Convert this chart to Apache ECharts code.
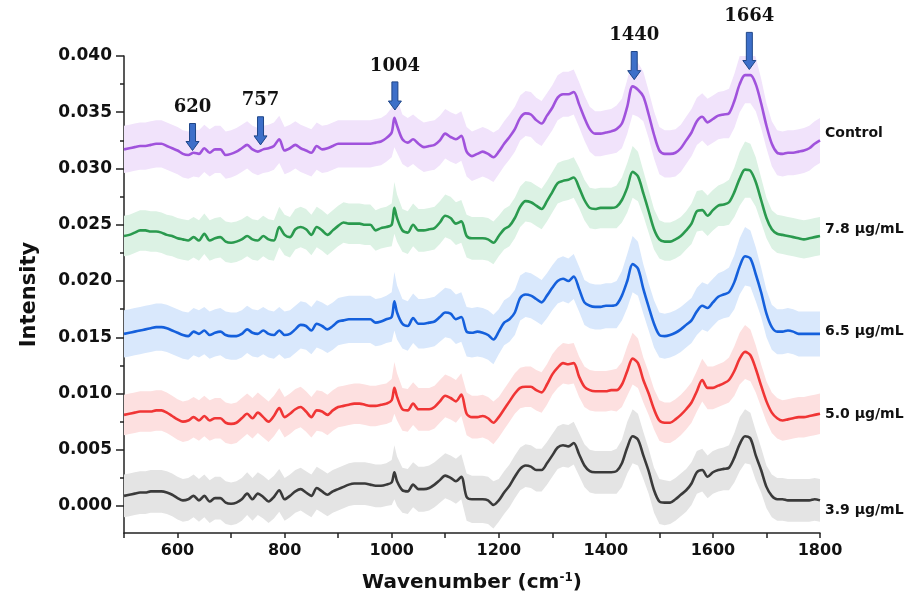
<!DOCTYPE html>
<html><head><meta charset="utf-8">
<script src="https://cdn.jsdelivr.net/npm/echarts@6/dist/echarts.min.js"></script>
<style>html,body{margin:0;padding:0;background:#fff}#c{width:916px;height:600px}</style>
</head><body><div id="c"></div><script>
// ---------- DATA ----------
const wavenumber = [
 500,510,520,530,540,550,560,570,580,590,
 600,610,620,630,640,650,660,670,680,690,
 700,710,720,730,740,750,760,770,780,790,
 800,810,820,830,840,850,860,870,880,890,
 900,910,920,930,940,950,960,970,980,990,
 1000,1005,1010,1020,1030,1040,1050,1060,1070,1080,1090,
 1100,1110,1120,1130,1140,1150,1160,1170,1180,1190,
 1200,1210,1220,1230,1240,1250,1260,1270,1280,1290,
 1300,1310,1320,1330,1340,1350,1360,1370,1380,1390,
 1400,1410,1420,1430,1440,1450,1460,1470,1480,1490,
 1500,1510,1520,1530,1540,1550,1560,1570,1580,1590,
 1600,1610,1620,1630,1640,1650,1660,1670,1680,1690,
 1700,1710,1720,1730,1740,1750,1760,1770,1780,1790,
 1800];

const seriesNames = ['Control', '7.8 μg/mL', '6.5 μg/mL', '5.0 μg/mL', '3.9 μg/mL'];

const meanControl = [
 0.0317,0.0318,0.0319,0.0320,0.0320,0.0321,0.0322,0.0322,0.0320,0.0318,
 0.0316,0.0313,0.0312,0.0314,0.0313,0.0318,0.0314,0.0317,0.0317,0.0312,
 0.0313,0.0315,0.0318,0.0321,0.0317,0.0315,0.0317,0.0318,0.0320,0.0326,
 0.0316,0.0318,0.0321,0.0318,0.0316,0.0314,0.0320,0.0317,0.0318,0.0320,
 0.0322,0.0322,0.0322,0.0322,0.0322,0.0322,0.0322,0.0323,0.0324,0.0327,
 0.0332,0.0345,0.0338,0.0326,0.0323,0.0326,0.0322,0.0319,0.0320,0.0321,0.0325,
 0.0331,0.0328,0.0326,0.0329,0.0315,0.0311,0.0313,0.0315,0.0313,0.0310,
 0.0315,0.0322,0.0328,0.0335,0.0345,0.0349,0.0348,0.0343,0.0340,0.0347,
 0.0354,0.0363,0.0366,0.0366,0.0368,0.0357,0.0345,0.0335,0.0331,0.0331,
 0.0332,0.0333,0.0335,0.0340,0.0355,0.0373,0.0370,0.0364,0.0348,0.0330,
 0.0316,0.0313,0.0313,0.0314,0.0318,0.0325,0.0332,0.0342,0.0346,0.0341,
 0.0344,0.0347,0.0348,0.0349,0.0360,0.0375,0.0383,0.0383,0.0375,0.0358,
 0.0338,0.0322,0.0314,0.0313,0.0314,0.0314,0.0315,0.0316,0.0318,0.0322,
 0.0325];

const mean78 = [
 0.0240,0.0241,0.0243,0.0245,0.0245,0.0244,0.0244,0.0243,0.0241,0.0240,
 0.0238,0.0237,0.0236,0.0239,0.0236,0.0242,0.0236,0.0238,0.0239,0.0235,
 0.0234,0.0235,0.0237,0.0240,0.0237,0.0236,0.0240,0.0237,0.0236,0.0248,
 0.0241,0.0239,0.0246,0.0248,0.0246,0.0241,0.0248,0.0245,0.0241,0.0245,
 0.0249,0.0252,0.0251,0.0251,0.0251,0.0250,0.0250,0.0245,0.0247,0.0248,
 0.0250,0.0265,0.0256,0.0245,0.0243,0.0250,0.0245,0.0245,0.0246,0.0247,0.0252,
 0.0258,0.0256,0.0251,0.0253,0.0240,0.0238,0.0238,0.0238,0.0237,0.0234,
 0.0240,0.0246,0.0249,0.0256,0.0266,0.0271,0.0270,0.0267,0.0264,0.0271,
 0.0279,0.0287,0.0289,0.0290,0.0292,0.0283,0.0272,0.0265,0.0264,0.0265,
 0.0265,0.0265,0.0266,0.0272,0.0283,0.0297,0.0293,0.0278,0.0262,0.0246,
 0.0237,0.0235,0.0235,0.0237,0.0240,0.0245,0.0251,0.0262,0.0263,0.0258,
 0.0263,0.0267,0.0268,0.0270,0.0279,0.0291,0.0299,0.0298,0.0288,0.0272,
 0.0256,0.0246,0.0242,0.0241,0.0240,0.0239,0.0238,0.0237,0.0238,0.0239,
 0.0240];

const mean65 = [
 0.0153,0.0154,0.0155,0.0156,0.0157,0.0158,0.0159,0.0159,0.0158,0.0156,
 0.0154,0.0152,0.0151,0.0155,0.0153,0.0156,0.0152,0.0154,0.0155,0.0152,
 0.0151,0.0151,0.0153,0.0157,0.0154,0.0153,0.0156,0.0153,0.0152,0.0156,
 0.0152,0.0153,0.0157,0.0161,0.0160,0.0156,0.0162,0.0160,0.0157,0.0160,
 0.0164,0.0165,0.0166,0.0166,0.0166,0.0166,0.0166,0.0163,0.0164,0.0166,
 0.0168,0.0182,0.0172,0.0162,0.0160,0.0167,0.0162,0.0162,0.0163,0.0164,0.0168,
 0.0172,0.0171,0.0166,0.0168,0.0155,0.0154,0.0155,0.0154,0.0152,0.0148,
 0.0155,0.0163,0.0166,0.0172,0.0185,0.0188,0.0187,0.0184,0.0181,0.0187,
 0.0194,0.0200,0.0202,0.0200,0.0204,0.0193,0.0181,0.0178,0.0177,0.0177,
 0.0178,0.0178,0.0179,0.0187,0.0200,0.0215,0.0211,0.0193,0.0177,0.0162,
 0.0152,0.0151,0.0152,0.0154,0.0157,0.0161,0.0165,0.0173,0.0178,0.0176,
 0.0181,0.0186,0.0188,0.0190,0.0199,0.0213,0.0222,0.0220,0.0206,0.0190,
 0.0171,0.0159,0.0155,0.0155,0.0156,0.0155,0.0153,0.0153,0.0153,0.0153,
 0.0153];

const mean50 = [
 0.0081,0.0082,0.0083,0.0084,0.0084,0.0084,0.0085,0.0085,0.0083,0.0080,
 0.0077,0.0075,0.0076,0.0079,0.0076,0.0080,0.0076,0.0078,0.0078,0.0074,
 0.0073,0.0074,0.0078,0.0082,0.0078,0.0083,0.0079,0.0075,0.0080,0.0087,
 0.0079,0.0082,0.0086,0.0088,0.0084,0.0079,0.0085,0.0084,0.0081,0.0085,
 0.0088,0.0089,0.0090,0.0091,0.0091,0.0090,0.0089,0.0089,0.0090,0.0091,
 0.0094,0.0105,0.0097,0.0086,0.0085,0.0091,0.0086,0.0086,0.0086,0.0088,0.0093,
 0.0098,0.0096,0.0093,0.0099,0.0082,0.0079,0.0079,0.0080,0.0078,0.0074,
 0.0079,0.0086,0.0093,0.0100,0.0105,0.0106,0.0106,0.0103,0.0101,0.0108,
 0.0117,0.0123,0.0127,0.0126,0.0127,0.0115,0.0106,0.0103,0.0102,0.0102,
 0.0102,0.0103,0.0103,0.0108,0.0120,0.0131,0.0127,0.0112,0.0100,0.0086,
 0.0076,0.0074,0.0074,0.0077,0.0081,0.0086,0.0092,0.0102,0.0112,0.0105,
 0.0105,0.0107,0.0109,0.0112,0.0120,0.0131,0.0137,0.0134,0.0122,0.0107,
 0.0093,0.0083,0.0078,0.0076,0.0077,0.0078,0.0079,0.0079,0.0080,0.0081,
 0.0082];

const mean39 = [
 0.0009,0.0010,0.0011,0.0012,0.0012,0.0013,0.0013,0.0013,0.0012,0.0010,
 0.0007,0.0005,0.0006,0.0009,0.0005,0.0009,0.0004,0.0007,0.0007,0.0003,
 0.0002,0.0003,0.0006,0.0011,0.0006,0.0011,0.0008,0.0004,0.0008,0.0014,
 0.0006,0.0009,0.0013,0.0015,0.0012,0.0009,0.0016,0.0013,0.0010,0.0013,
 0.0015,0.0017,0.0019,0.0020,0.0020,0.0020,0.0019,0.0018,0.0018,0.0019,
 0.0021,0.0030,0.0022,0.0014,0.0013,0.0019,0.0015,0.0015,0.0016,0.0019,0.0023,
 0.0027,0.0025,0.0022,0.0026,0.0008,0.0006,0.0006,0.0006,0.0005,0.0001,
 0.0005,0.0012,0.0018,0.0026,0.0033,0.0036,0.0035,0.0032,0.0032,0.0038,
 0.0045,0.0052,0.0054,0.0053,0.0056,0.0046,0.0036,0.0031,0.0030,0.0030,
 0.0030,0.0030,0.0031,0.0038,0.0052,0.0062,0.0059,0.0045,0.0031,0.0014,
 0.0004,0.0003,0.0003,0.0006,0.0010,0.0014,0.0020,0.0030,0.0032,0.0026,
 0.0030,0.0032,0.0033,0.0034,0.0043,0.0055,0.0062,0.0060,0.0045,0.0032,
 0.0017,0.0009,0.0006,0.0006,0.0005,0.0005,0.0005,0.0005,0.0005,0.0006,
 0.0005];

// standard deviation (half-width of the shaded band)
const sdControl = [
 0.0021,0.0021,0.0021,0.0021,0.0021,0.0021,0.0021,0.0021,0.0021,0.0021,
 0.0021,0.0021,0.0021,0.0021,0.0021,0.0021,0.0021,0.0021,0.0021,0.0021,
 0.0021,0.0021,0.0021,0.0021,0.0021,0.0021,0.0021,0.0021,0.0021,0.0021,
 0.0021,0.0021,0.0021,0.0021,0.0021,0.0021,0.0021,0.0021,0.0021,0.0021,
 0.0021,0.0021,0.0021,0.0021,0.0021,0.0021,0.0021,0.0021,0.0021,0.0021,
 0.0022,0.0026,0.0024,0.0022,0.0022,0.0022,0.0022,0.0022,0.0022,0.0022,0.0022,
 0.0022,0.0022,0.0022,0.0022,0.0022,0.0022,0.0022,0.0022,0.0022,0.0022,
 0.0020,0.0020,0.0020,0.0020,0.0020,0.0020,0.0020,0.0020,0.0020,0.0020,
 0.0020,0.0020,0.0020,0.0020,0.0020,0.0020,0.0020,0.0020,0.0020,0.0020,
 0.0020,0.0020,0.0021,0.0022,0.0024,0.0025,0.0024,0.0022,0.0021,0.0021,
 0.0021,0.0021,0.0021,0.0021,0.0021,0.0021,0.0021,0.0021,0.0021,0.0021,
 0.0021,0.0021,0.0021,0.0022,0.0024,0.0025,0.0025,0.0025,0.0024,0.0022,
 0.0020,0.0020,0.0020,0.0020,0.0020,0.0020,0.0020,0.0020,0.0020,0.0020,
 0.0020];
const sd78 = [
 0.0018,0.0018,0.0018,0.0018,0.0018,0.0018,0.0018,0.0018,0.0018,0.0018,
 0.0018,0.0018,0.0018,0.0018,0.0018,0.0018,0.0018,0.0018,0.0018,0.0018,
 0.0018,0.0018,0.0018,0.0018,0.0018,0.0018,0.0018,0.0018,0.0018,0.0018,
 0.0018,0.0018,0.0018,0.0018,0.0018,0.0018,0.0018,0.0018,0.0018,0.0018,
 0.0018,0.0018,0.0018,0.0018,0.0018,0.0018,0.0018,0.0018,0.0018,0.0018,
 0.0019,0.0023,0.0021,0.0019,0.0019,0.0019,0.0019,0.0019,0.0019,0.0019,0.0019,
 0.0019,0.0019,0.0019,0.0019,0.0019,0.0019,0.0019,0.0019,0.0019,0.0019,
 0.0018,0.0018,0.0018,0.0018,0.0018,0.0018,0.0018,0.0018,0.0018,0.0018,
 0.0018,0.0018,0.0018,0.0018,0.0018,0.0018,0.0018,0.0018,0.0018,0.0018,
 0.0018,0.0018,0.0019,0.0020,0.0022,0.0023,0.0022,0.0020,0.0019,0.0018,
 0.0017,0.0017,0.0017,0.0017,0.0017,0.0017,0.0018,0.0018,0.0018,0.0018,
 0.0018,0.0018,0.0019,0.0020,0.0022,0.0024,0.0025,0.0024,0.0022,0.0020,
 0.0018,0.0017,0.0017,0.0017,0.0017,0.0017,0.0017,0.0017,0.0017,0.0017,
 0.0017];
const sd65 = [
 0.0021,0.0021,0.0021,0.0021,0.0021,0.0021,0.0021,0.0021,0.0021,0.0021,
 0.0021,0.0021,0.0021,0.0021,0.0021,0.0021,0.0021,0.0021,0.0021,0.0021,
 0.0021,0.0021,0.0021,0.0021,0.0021,0.0021,0.0021,0.0021,0.0021,0.0021,
 0.0021,0.0021,0.0021,0.0021,0.0021,0.0021,0.0021,0.0021,0.0021,0.0021,
 0.0021,0.0021,0.0021,0.0021,0.0021,0.0021,0.0021,0.0021,0.0021,0.0021,
 0.0022,0.0026,0.0024,0.0022,0.0022,0.0022,0.0022,0.0022,0.0022,0.0022,0.0022,
 0.0022,0.0022,0.0022,0.0022,0.0022,0.0022,0.0022,0.0022,0.0022,0.0022,
 0.0020,0.0020,0.0020,0.0020,0.0020,0.0020,0.0020,0.0020,0.0020,0.0020,
 0.0020,0.0020,0.0020,0.0020,0.0020,0.0020,0.0020,0.0020,0.0020,0.0020,
 0.0020,0.0020,0.0021,0.0022,0.0024,0.0025,0.0024,0.0022,0.0021,0.0021,
 0.0020,0.0020,0.0020,0.0020,0.0020,0.0020,0.0020,0.0021,0.0021,0.0021,
 0.0021,0.0021,0.0021,0.0022,0.0024,0.0025,0.0026,0.0025,0.0024,0.0022,
 0.0021,0.0020,0.0020,0.0020,0.0020,0.0020,0.0020,0.0020,0.0020,0.0020,
 0.0020];
const sd50 = [
 0.0018,0.0018,0.0018,0.0018,0.0018,0.0018,0.0018,0.0018,0.0018,0.0018,
 0.0018,0.0018,0.0018,0.0018,0.0018,0.0018,0.0018,0.0018,0.0018,0.0018,
 0.0018,0.0018,0.0018,0.0018,0.0018,0.0018,0.0018,0.0018,0.0018,0.0018,
 0.0018,0.0018,0.0018,0.0018,0.0018,0.0018,0.0018,0.0018,0.0018,0.0018,
 0.0018,0.0018,0.0018,0.0018,0.0018,0.0018,0.0018,0.0018,0.0018,0.0018,
 0.0019,0.0023,0.0021,0.0019,0.0019,0.0019,0.0019,0.0019,0.0019,0.0019,0.0019,
 0.0019,0.0019,0.0019,0.0019,0.0019,0.0019,0.0019,0.0019,0.0019,0.0019,
 0.0018,0.0018,0.0018,0.0018,0.0018,0.0018,0.0018,0.0018,0.0018,0.0018,
 0.0018,0.0018,0.0018,0.0018,0.0018,0.0018,0.0018,0.0018,0.0018,0.0018,
 0.0018,0.0018,0.0019,0.0020,0.0022,0.0023,0.0022,0.0020,0.0019,0.0018,
 0.0018,0.0018,0.0018,0.0018,0.0018,0.0018,0.0018,0.0018,0.0019,0.0019,
 0.0019,0.0019,0.0019,0.0020,0.0022,0.0023,0.0024,0.0023,0.0021,0.0019,
 0.0018,0.0018,0.0018,0.0018,0.0018,0.0018,0.0018,0.0018,0.0018,0.0018,
 0.0018];
const sd39 = [
 0.0019,0.0019,0.0019,0.0019,0.0019,0.0019,0.0019,0.0019,0.0019,0.0019,
 0.0019,0.0019,0.0019,0.0019,0.0019,0.0019,0.0019,0.0019,0.0019,0.0019,
 0.0019,0.0019,0.0019,0.0019,0.0019,0.0019,0.0019,0.0019,0.0019,0.0019,
 0.0019,0.0019,0.0019,0.0019,0.0019,0.0019,0.0019,0.0019,0.0019,0.0019,
 0.0019,0.0019,0.0019,0.0019,0.0019,0.0019,0.0019,0.0019,0.0019,0.0019,
 0.0020,0.0024,0.0022,0.0020,0.0020,0.0020,0.0020,0.0020,0.0020,0.0020,0.0020,
 0.0020,0.0020,0.0020,0.0020,0.0021,0.0021,0.0021,0.0021,0.0021,0.0021,
 0.0019,0.0019,0.0019,0.0019,0.0019,0.0019,0.0019,0.0019,0.0019,0.0019,
 0.0019,0.0019,0.0019,0.0019,0.0019,0.0019,0.0019,0.0019,0.0019,0.0019,
 0.0019,0.0019,0.0020,0.0021,0.0023,0.0024,0.0023,0.0021,0.0020,0.0020,
 0.0020,0.0020,0.0019,0.0019,0.0019,0.0019,0.0019,0.0019,0.0019,0.0019,
 0.0019,0.0019,0.0019,0.0020,0.0022,0.0024,0.0024,0.0023,0.0022,0.0020,
 0.0019,0.0019,0.0019,0.0019,0.0019,0.0019,0.0019,0.0019,0.0019,0.0019,
 0.0019];

const yTickValues = [0, 0.005, 0.010, 0.015, 0.020, 0.025, 0.030, 0.035, 0.040];
const yMinorTickValues = [0.0025, 0.0075, 0.0125, 0.0175, 0.0225, 0.0275, 0.0325, 0.0375];

// peak annotations (arrow x in cm-1, arrow tip and tail in intensity units)
const peakLabels = ['620', '757', '1004', '1440', '1664'];
const peakArrowX = [628, 755, 1006, 1453, 1668];
const peakArrowTip = [0.0316, 0.0321, 0.0352, 0.0379, 0.0388];
const peakArrowTail = [0.0340, 0.0346, 0.0377, 0.0404, 0.0421];

// ---------- STYLE ----------
const means = [meanControl, mean78, mean65, mean50, mean39];
const sds = [sdControl, sd78, sd65, sd50, sd39];
const lineColors = ['#a052dc', '#2a9a4e', '#1560dc', '#f03535', '#3a3a3a'];
const bandColors = ['#f1e3fb', '#dcf2e4', '#d9e8fc', '#fde0e0', '#e4e4e4'];
const nameLabelDy = [-7, -7, -3, 1, 10];

const FONT = 'DejaVu Sans';
const last = wavenumber.length - 1;

const series = [];
// shaded mean ± sd bands, drawn as polygons through the cartesian coordinate system
series.push({
  type: 'custom', silent: true, z: 1, clip: true,
  data: means.map((m, i) => [wavenumber[0], m[0], i]),
  encode: { x: 0, y: 1 },
  renderItem: function (params, api) {
    const i = params.dataIndex;
    const m = means[i], s = sds[i];
    const upper = wavenumber.map((x, k) => api.coord([x, m[k] + s[k]]));
    const lower = wavenumber.map((x, k) => api.coord([x, m[k] - s[k]])).reverse();
    return {
      type: 'polygon',
      shape: { points: upper.concat(lower) },
      style: { fill: bandColors[i], stroke: null }
    };
  }
});
means.forEach((m, i) => {
  series.push({
    name: seriesNames[i], type: 'line', data: wavenumber.map((x, k) => [x, m[k]]),
    symbol: 'none', smooth: 0.3, z: 3,
    lineStyle: { color: lineColors[i], width: 2.6 }
  });
});
// series name labels at the right end of each spectrum
series.push({
  type: 'custom', clip: false, z: 10, silent: true,
  data: means.map(m => [wavenumber[last], m[last]]),
  encode: { x: 0, y: 1 },
  renderItem: function (params, api) {
    const p = api.coord([api.value(0), api.value(1)]);
    return {
      type: 'text', x: p[0] + 5, y: p[1] + nameLabelDy[params.dataIndex],
      style: { text: seriesNames[params.dataIndex], fill: '#111', font: 'bold 14px "DejaVu Sans"', align: 'left', verticalAlign: 'middle' }
    };
  }
});
series.push({
  type: 'custom', clip: false, z: 10, silent: true,
  data: peakArrowX.map((x, i) => [x, peakArrowTip[i], peakArrowTail[i]]),
  encode: { x: 0, y: 1 },
  renderItem: function (params, api) {
    const tip = api.coord([api.value(0), api.value(1)]);
    const tail = api.coord([api.value(0), api.value(2)]);
    const x = tip[0], yt = tip[1], y0 = tail[1];
    const sw = 3, hw = 6.5, hh = 9;
    return {
      type: 'group', children: [
        { type: 'polygon', shape: { points: [[x - sw, y0], [x + sw, y0], [x + sw, yt - hh], [x + hw, yt - hh], [x, yt], [x - hw, yt - hh], [x - sw, yt - hh]] },
          style: { fill: '#3d6fc9', stroke: '#1f4688', lineWidth: 1 } },
        { type: 'text', x: x, y: y0 - 16,
          style: { text: peakLabels[params.dataIndex], fill: '#111', font: 'bold 18px "DejaVu Serif"', align: 'center', verticalAlign: 'middle' } }
      ]
    };
  }
});

const chart = echarts.init(document.getElementById('c'), null, { renderer: 'canvas' });
chart.setOption({
  animation: false,
  backgroundColor: '#ffffff',
  grid: { left: 124, right: 96, top: 56, bottom: 67 },
  xAxis: {
    type: 'value', min: 500, max: 1800, interval: 100,
    name: 'Wavenumber (cm{sup|-1})', nameLocation: 'middle', nameGap: 39,
    nameTextStyle: {
      fontFamily: FONT, fontWeight: 'bold', fontSize: 20, color: '#111',
      rich: { sup: { fontFamily: FONT, fontWeight: 'bold', fontSize: 12, color: '#111', verticalAlign: 'top', padding: [0, 0, 10, 0] } }
    },
    axisLine: { show: true, onZero: false, lineStyle: { color: '#222', width: 1.5 } },
    axisTick: { show: true, length: 5, lineStyle: { color: '#222', width: 1.5 } },
    axisLabel: { margin: 10, fontFamily: FONT, fontWeight: 'bold', fontSize: 16, color: '#111',
      formatter: v => (v % 200 === 0 ? String(v) : '') },
    splitLine: { show: false }
  },
  yAxis: [{
    type: 'value', min: -0.0024, max: 0.04,
    name: 'Intensity', nameLocation: 'middle', nameGap: 84,
    nameTextStyle: { fontFamily: FONT, fontWeight: 'bold', fontSize: 21, color: '#111' },
    axisLine: { show: true, onZero: false, lineStyle: { color: '#222', width: 1.5 } },
    axisTick: { show: true, length: 8, customValues: yTickValues, lineStyle: { color: '#222', width: 1.5 } },
    axisLabel: { margin: 12, customValues: yTickValues, fontFamily: FONT, fontWeight: 'bold', fontSize: 17, color: '#111',
      formatter: v => v.toFixed(3) },
    splitLine: { show: false }
  }, {
    type: 'value', min: -0.0024, max: 0.04, position: 'left',
    axisLine: { show: false, onZero: false },
    axisTick: { show: true, length: 4, customValues: yMinorTickValues, lineStyle: { color: '#222', width: 1.5 } },
    axisLabel: { show: false },
    splitLine: { show: false }
  }],
  series: series
});
</script></body></html>
